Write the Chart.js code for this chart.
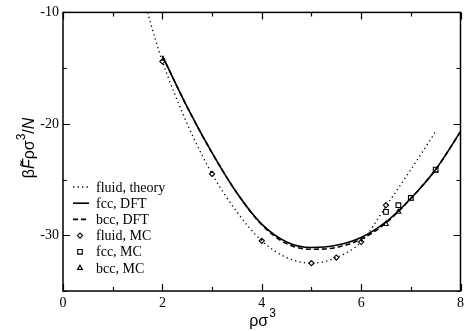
<!DOCTYPE html>
<html>
<head>
<meta charset="utf-8">
<script src="https://cdn.jsdelivr.net/npm/chart.js@4"></script>
<style>
  body { margin: 0; background: #fff; }
</style>
</head>
<body>
<canvas id="chart" width="468" height="331"></canvas>
<script>
// ---------------------- DATA ----------------------
const theoryX = [1.7, 1.85, 2, 2.5, 3, 3.5, 4, 4.5, 5, 5.5, 6, 6.5, 7, 7.5];
const theoryY = [-10.0, -12.3, -14.4, -20.0, -24.5, -27.9, -30.5, -32.0, -32.5, -32.0, -30.6, -27.4, -24.1, -20.7];

const dftX = [2, 2.5, 3, 3.5, 4, 4.5, 5, 5.5, 6, 6.5, 7, 7.5, 8];
const fccDftY = [-13.9, -18.5, -22.6, -26.2, -29.0, -30.6, -31.1, -30.9, -30.2, -28.8, -26.7, -24.1, -20.7];
const bccDftY = [-13.9, -18.5, -22.6, -26.2, -29.05, -30.75, -31.25, -31.1, -30.35, -28.9, -26.7, -24.1, -20.7];

const fluidMcX = [2, 3, 4, 5, 5.5, 6, 6.5];
const fluidMcY = [-14.4, -24.5, -30.5, -32.5, -32.0, -30.6, -27.3];

const solidMcX = [6.5, 6.75, 7, 7.5];
const fccMcY = [-27.9, -27.3, -26.65, -24.1];
const bccMcY = [-29.0, -27.9, -26.7, -24.2];

const xTicks = [0, 2, 4, 6, 8];
const xMinor = [1, 3, 5, 7];
const yTicks = [-30, -20, -10];
const yMinor = [-35, -25, -15];

// ---------------------- HELPERS ----------------------
const pts = (xs, ys) => xs.map((x, i) => ({ x, y: ys[i] }));
const serif = "'Liberation Serif', 'Times New Roman', serif";
const sans = "'Liberation Sans', Arial, sans-serif";

function lineSet(label, xs, ys, dash, width) {
  return {
    label,
    data: pts(xs, ys),
    showLine: true,
    borderColor: "#000",
    borderWidth: width,
    borderDash: dash,
    pointRadius: 0,
    cubicInterpolationMode: "monotone",
    fill: false,
  };
}

function markSet(label, xs, ys, style, radius) {
  return {
    label,
    data: pts(xs, ys),
    showLine: false,
    pointStyle: style,
    pointRadius: radius,
    borderColor: "#000",
    backgroundColor: "#fff",
    pointBorderWidth: 1.1,
  };
}

// ---------------------- FRAME, TICKS, LEGEND, TITLES ----------------------
const decor = {
  id: "decor",
  afterDraw(chart) {
    const ctx = chart.ctx;
    const a = chart.chartArea;
    const xs = chart.scales.x;
    const ys = chart.scales.y;
    ctx.save();
    ctx.strokeStyle = "#000";
    ctx.lineWidth = 1.5;
    ctx.setLineDash([]);
    ctx.strokeRect(a.left, a.top, a.right - a.left, a.bottom - a.top);

    ctx.lineWidth = 1.2;
    const tickX = (v, len) => {
      const p = Math.round(xs.getPixelForValue(v)) + 0.5;
      ctx.beginPath();
      ctx.moveTo(p, a.bottom); ctx.lineTo(p, a.bottom - len);
      ctx.moveTo(p, a.top); ctx.lineTo(p, a.top + len);
      ctx.stroke();
    };
    const tickY = (v, len) => {
      const p = Math.round(ys.getPixelForValue(v)) + 0.5;
      ctx.beginPath();
      ctx.moveTo(a.left, p); ctx.lineTo(a.left + len, p);
      ctx.moveTo(a.right, p); ctx.lineTo(a.right - len, p);
      ctx.stroke();
    };
    xTicks.forEach((v) => tickX(v, 7));
    xMinor.forEach((v) => tickX(v, 4));
    yTicks.forEach((v) => tickY(v, 7));
    yMinor.forEach((v) => tickY(v, 4));

    // legend inside the plot, bottom left
    ctx.font = "14px " + serif;
    ctx.fillStyle = "#000";
    ctx.textBaseline = "middle";
    chart.data.datasets.forEach((ds, i) => {
      const y = 187 + i * 16.2;
      ctx.strokeStyle = "#000";
      if (ds.showLine) {
        ctx.lineWidth = ds.borderWidth;
        ctx.setLineDash(ds.borderDash || []);
        ctx.beginPath();
        ctx.moveTo(73, y); ctx.lineTo(89, y);
        ctx.stroke();
        ctx.setLineDash([]);
      } else {
        ctx.lineWidth = 1.1;
        ctx.fillStyle = "#fff";
        Chart.helpers.drawPoint(ctx, { pointStyle: ds.pointStyle, radius: ds.pointRadius, borderWidth: 1.1, rotation: 0 }, 80, y);
        ctx.fillStyle = "#000";
      }
      ctx.fillText(ds.label, 96, y + 1);
    });

    // x title: ρσ³
    ctx.textBaseline = "alphabetic";
    ctx.font = "16px " + sans;
    const w1 = ctx.measureText("ρσ").width;
    const cx = (a.left + a.right) / 2 - 3;
    ctx.fillText("ρσ", cx - w1 / 2, 326);
    ctx.font = "12px " + sans;
    ctx.fillText("3", cx + w1 / 2 + 1, 317);

    // y title: βF̃ρσ³/N
    ctx.translate(34, 148);
    ctx.rotate(-Math.PI / 2);
    const parts = [
      { t: "β", f: "16px " + sans },
      { t: "F", f: "italic 16px " + sans, tilde: true },
      { t: "ρσ", f: "16px " + sans },
      { t: "3", f: "12px " + sans, dy: -9 },
      { t: "/", f: "16px " + sans },
      { t: "N", f: "italic 16px " + sans },
    ];
    let total = 0;
    parts.forEach((p) => { ctx.font = p.f; p.w = ctx.measureText(p.t).width; total += p.w; });
    let px = -total / 2;
    parts.forEach((p) => {
      ctx.font = p.f;
      ctx.fillText(p.t, px, p.dy || 0);
      if (p.tilde) {
        ctx.font = "16px " + sans;
        ctx.fillText("˜", px + 3, -2);
      }
      px += p.w;
    });
    ctx.restore();
  },
};

// ---------------------- CHART ----------------------
const tickFont = { family: serif, size: 14 };

new Chart(document.getElementById("chart"), {
  type: "scatter",
  data: {
    datasets: [
      lineSet("fluid, theory", theoryX, theoryY, [1.3, 3.2], 1.3),
      lineSet("fcc, DFT", dftX, fccDftY, [], 1.6),
      lineSet("bcc, DFT", dftX, bccDftY, [5, 3], 1.6),
      markSet("fluid, MC", fluidMcX, fluidMcY, "rectRot", 2.6),
      markSet("fcc, MC", solidMcX, fccMcY, "rect", 3.3),
      markSet("bcc, MC", solidMcX, bccMcY, "triangle", 2.8),
    ],
  },
  options: {
    responsive: false,
    animation: false,
    devicePixelRatio: 1,
    layout: { padding: { top: 12, right: 6, left: 0, bottom: 0 } },
    plugins: { legend: { display: false }, tooltip: { enabled: false } },
    scales: {
      x: {
        type: "linear",
        min: 0,
        max: 8,
        afterBuildTicks: (s) => { s.ticks = xTicks.map((v) => ({ value: v })); },
        afterFit: (s) => { s.height = 40; },
        grid: { display: false, drawTicks: false },
        border: { display: false },
        ticks: { font: tickFont, color: "#000", padding: 4, maxRotation: 0 },
      },
      y: {
        type: "linear",
        min: -35,
        max: -10,
        afterBuildTicks: (s) => { s.ticks = yTicks.map((v) => ({ value: v })); },
        afterFit: (s) => { s.width = 63; },
        grid: { display: false, drawTicks: false },
        border: { display: false },
        ticks: { font: tickFont, color: "#000", padding: 4 },
      },
    },
  },
  plugins: [decor],
});
</script>
</body>
</html>
